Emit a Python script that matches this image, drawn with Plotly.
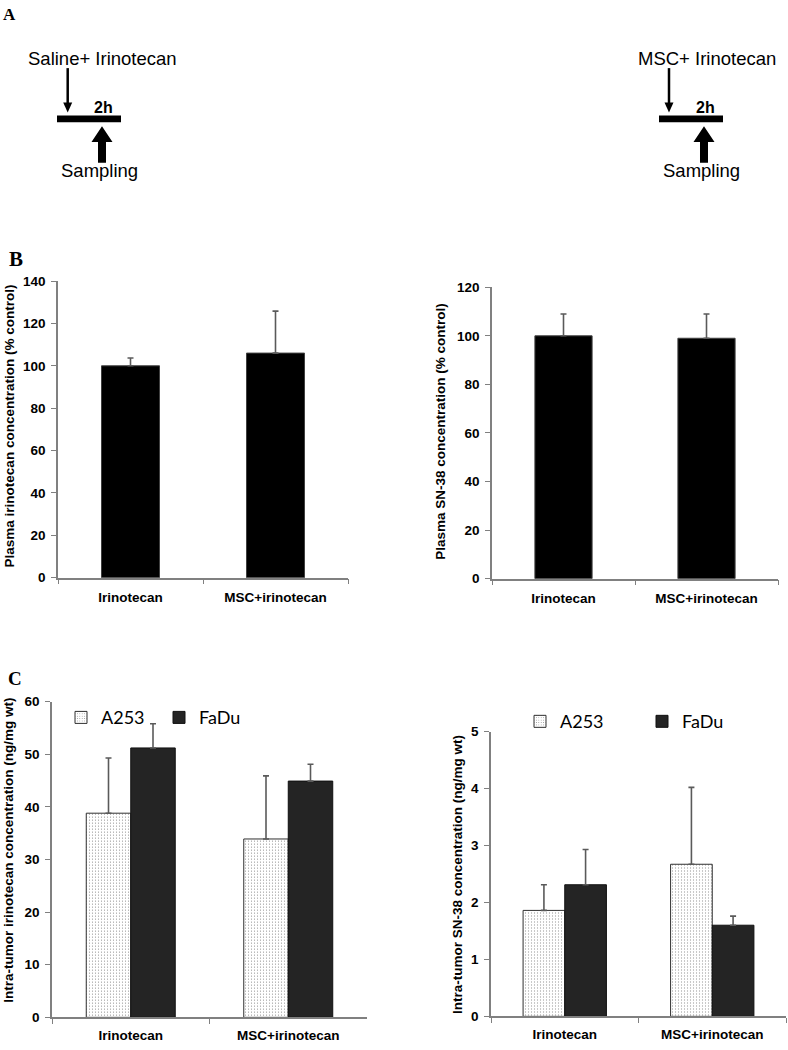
import plotly.graph_objects as go

W, H = 788, 1050

# ---------------- data ----------------
groups = ["Irinotecan", "MSC+irinotecan"]

plasma_irinotecan = [100, 106]
plasma_irinotecan_err = [3.7, 19.8]

plasma_sn38 = [100, 99]
plasma_sn38_err = [9, 10]

tumor_irinotecan_A253 = [38.8, 33.9]
tumor_irinotecan_A253_err = [10.5, 12.0]
tumor_irinotecan_FaDu = [51.2, 44.9]
tumor_irinotecan_FaDu_err = [4.6, 3.2]

tumor_sn38_A253 = [1.86, 2.67]
tumor_sn38_A253_err = [0.45, 1.35]
tumor_sn38_FaDu = [2.31, 1.60]
tumor_sn38_FaDu_err = [0.62, 0.16]

lines = ["A253", "FaDu"]

# ---------------- helpers ----------------
def px(x):
    return x / W

def py(y):
    return 1 - y / H

AXC = "#808080"
ERRC = "#5a5a5a"
FONT = "Liberation Sans"

fig = go.Figure()

def err(arr):
    return dict(type="data", array=arr, arrayminus=[0] * len(arr), symmetric=False,
                color=ERRC, thickness=1.6, width=3)

# B left
fig.add_trace(go.Bar(x=groups, y=plasma_irinotecan, error_y=err(plasma_irinotecan_err),
                     marker=dict(color="#000000", line=dict(color="#404040", width=1)),
                     width=0.4, showlegend=False, xaxis="x", yaxis="y"))
# B right
fig.add_trace(go.Bar(x=groups, y=plasma_sn38, error_y=err(plasma_sn38_err),
                     marker=dict(color="#000000", line=dict(color="#404040", width=1)),
                     width=0.4, showlegend=False, xaxis="x2", yaxis="y2"))

dot = dict(shape=".", fgcolor="#000000", bgcolor="#ffffff", size=3, solidity=0.12)

# C left
fig.add_trace(go.Bar(x=groups, y=tumor_irinotecan_A253, error_y=err(tumor_irinotecan_A253_err),
                     name=lines[0], marker=dict(color="#ffffff", pattern=dot,
                                                line=dict(color="#303030", width=1)),
                     xaxis="x3", yaxis="y3", legend="legend"))
fig.add_trace(go.Bar(x=groups, y=tumor_irinotecan_FaDu, error_y=err(tumor_irinotecan_FaDu_err),
                     name=lines[1], marker=dict(color="#242424", line=dict(color="#101010", width=1)),
                     xaxis="x3", yaxis="y3", legend="legend"))
# C right
fig.add_trace(go.Bar(x=groups, y=tumor_sn38_A253, error_y=err(tumor_sn38_A253_err),
                     name=lines[0], marker=dict(color="#ffffff", pattern=dot,
                                                line=dict(color="#303030", width=1)),
                     xaxis="x4", yaxis="y4", legend="legend2"))
fig.add_trace(go.Bar(x=groups, y=tumor_sn38_FaDu, error_y=err(tumor_sn38_FaDu_err),
                     name=lines[1], marker=dict(color="#242424", line=dict(color="#101010", width=1)),
                     xaxis="x4", yaxis="y4", legend="legend2"))

tickfont = dict(family=FONT, size=13.5, color="#000000", weight="bold")

def xax(x0, x1, anchor, standoff=6):
    return dict(domain=[px(x0), px(x1)], anchor=anchor, type="category",
                showline=True, linecolor=AXC, linewidth=1.5, ticks="outside",
                tickson="boundaries", ticklen=5, tickcolor=AXC, tickwidth=1.2,
                showgrid=False, zeroline=False, tickfont=tickfont,
                ticklabelstandoff=standoff, fixedrange=True)

def yax(ytop, ybot, anchor, rng, dtick):
    return dict(domain=[py(ybot), py(ytop)], anchor=anchor, range=rng, dtick=dtick,
                showline=True, linecolor=AXC, linewidth=1.5, ticks="outside",
                ticklen=5, tickcolor=AXC, tickwidth=1.2, showgrid=False,
                zeroline=False, tickfont=tickfont, ticklabelstandoff=3, fixedrange=True)

layout = dict(
    width=W, height=H, margin=dict(l=0, r=0, t=0, b=0),
    paper_bgcolor="#ffffff", plot_bgcolor="#ffffff",
    barmode="group", bargap=0.435, bargroupgap=0,
    xaxis=xax(58, 348, "y"), yaxis=yax(278, 579, "x", [0, 140], 20),
    xaxis2=xax(492, 778, "y2"), yaxis2=yax(284.3, 580, "x2", [0, 120], 20),
    xaxis3=xax(52, 367, "y3", 5), yaxis3=yax(704.7, 1025, "x3", [0, 60], 10),
    xaxis4=xax(491, 786, "y4", 5), yaxis4=yax(735, 1024, "x4", [0, 5], 1),
    legend=dict(orientation="h", x=px(61), y=py(721), xanchor="left", yanchor="middle",
                font=dict(family="Lato", size=18, color="#000000"),
                bgcolor="rgba(0,0,0,0)", entrywidth=53, itemwidth=30,
                tracegroupgap=0),
    legend2=dict(orientation="h", x=px(520), y=py(725), xanchor="left", yanchor="middle",
                 font=dict(family="Lato", size=18, color="#000000"),
                 bgcolor="rgba(0,0,0,0)", entrywidth=77, itemwidth=30,
                 tracegroupgap=0),
)
fig.update_layout(**layout)

ann = []
# y-axis titles
ytitles = [
    ("Plasma irinotecan concentration (% control)", 9, (278 + 579) / 2 - 3),
    ("Plasma SN-38 concentration (% control)", 441, (284 + 580) / 2 - 1),
    ("Intra-tumor irinotecan concentration (ng/mg wt)", 9, (705 + 1025) / 2 - 9),
    ("Intra-tumor SN-38 concentration (ng/mg wt)", 458, (735 + 1024) / 2 + 1),
]
for t, x, y in ytitles:
    ann.append(dict(text=t, x=px(x), y=py(y), xref="paper", yref="paper", showarrow=False,
                    textangle=-90, xanchor="center", yanchor="middle",
                    font=dict(family=FONT, size=13.5, color="#000000", weight="bold")))

# panel letters
for t, x, y, s in [("A", 1, 8, 17), ("B", 7, 256, 21), ("C", 6, 681, 19)]:
    ann.append(dict(text=t, x=px(x), y=py(y), xref="paper", yref="paper", showarrow=False,
                    xanchor="left", yanchor="middle",
                    font=dict(family="Liberation Serif", size=s, color="#000000", weight="bold")))

# schematic texts
sch_font = dict(family=FONT, size=18.5, color="#000000")
for t, x, y in [("Saline+ Irinotecan", 26, 52), ("MSC+ Irinotecan", 636, 52),
                ("Sampling", 59, 166), ("Sampling", 661, 166)]:
    ann.append(dict(text=t, x=px(x), y=py(y), xref="paper", yref="paper", showarrow=False,
                    xanchor="left", yanchor="middle", font=sch_font))
for x in [92, 694]:
    ann.append(dict(text="2h", x=px(x), y=py(102), xref="paper", yref="paper", showarrow=False,
                    xanchor="left", yanchor="middle",
                    font=dict(family=FONT, size=16, color="#000000", weight="bold")))

fig.update_layout(annotations=ann)

shapes = []
def P(x, y):
    return f"{px(x):.5f},{py(y):.5f}"

for (ax, bx0, bx1, ux) in [(67.7, 57, 121, 102), (669, 659, 723, 704)]:
    # timeline bar
    shapes.append(dict(type="rect", xref="paper", yref="paper", x0=px(bx0), x1=px(bx1),
                       y0=py(117), y1=py(110), fillcolor="#000000", line=dict(width=0)))
    # down arrow shaft
    shapes.append(dict(type="line", xref="paper", yref="paper", x0=px(ax), x1=px(ax),
                       y0=py(62), y1=py(99), line=dict(color="#000000", width=2.5)))
    # down arrow head
    shapes.append(dict(type="path", xref="paper", yref="paper",
                       path=f"M{P(ax-4.5, 97)} L{P(ax+4.5, 97)} L{P(ax, 107)} Z",
                       fillcolor="#000000", line=dict(width=0)))
    # thick up arrow
    shapes.append(dict(type="path", xref="paper", yref="paper",
                       path=(f"M{P(ux, 121)} L{P(ux+10.5, 137)} L{P(ux+4, 137)} L{P(ux+4, 158)} "
                             f"L{P(ux-4, 158)} L{P(ux-4, 137)} L{P(ux-10.5, 137)} Z"),
                       fillcolor="#000000", line=dict(width=0)))
fig.update_layout(shapes=shapes)

fig.write_html("out.html", config={"displayModeBar": False},
               post_script="document.body.style.margin='0';document.body.style.padding='0';")
